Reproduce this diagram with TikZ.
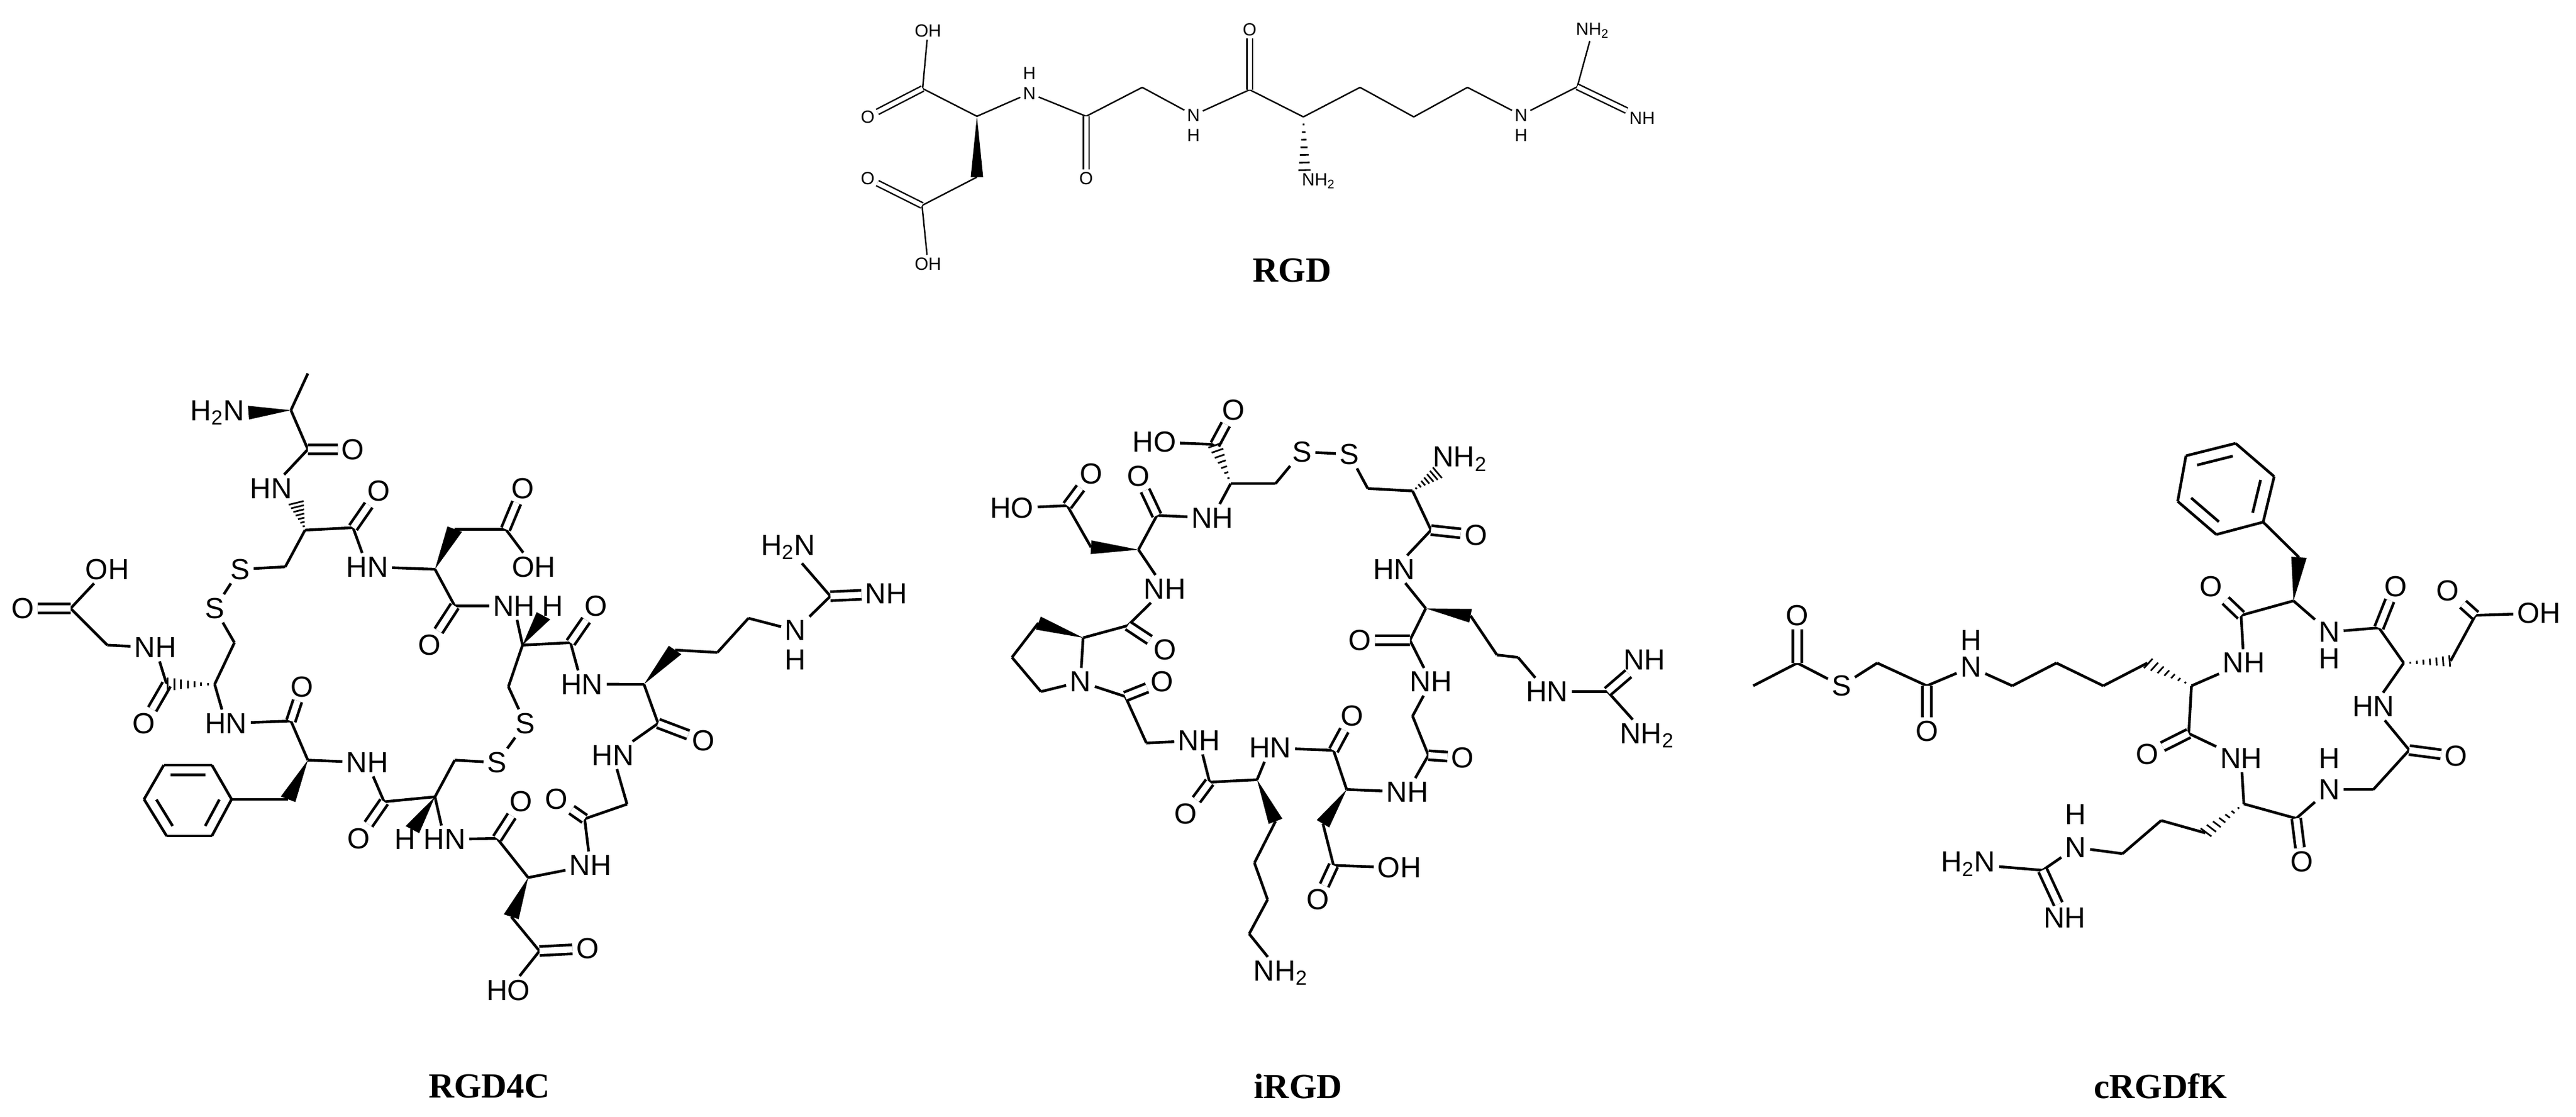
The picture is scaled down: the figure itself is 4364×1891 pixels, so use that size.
\documentclass[tikz,border=0pt]{standalone}
\usepackage{fontspec}
\setmainfont{Liberation Sans}
\newfontfamily\labfont{Liberation Serif}
\usetikzlibrary{calc}
\newcommand{\bw}[3][4pt]{\fill (#2) -- ($(#3)!#1!90:(#2)$) -- ($(#3)!#1!-90:(#2)$) -- cycle;}
\newcommand{\hw}[3][4pt]{\foreach \t in {0.14,0.28,0.42,0.56,0.70,0.84,0.98}{\draw[line width=0.8pt] ($(#2)!\t!(#3)!{\t*#1}!90:(#3)$) -- ($(#2)!\t!(#3)!{\t*#1}!-90:(#3)$);}}
\tikzset{
 atl/.style={inner sep=1.2pt,font=\fontsize{14}{14}\selectfont},
 ats/.style={inner sep=1pt,font=\fontsize{8.5}{8.5}\selectfont},
 dbl/.style={double,double distance=3pt},
 dbs/.style={double,double distance=2pt},
 title/.style={font=\labfont\bfseries\fontsize{17}{17}\selectfont}
}
\begin{document}
\begin{tikzpicture}[x=0.01cm,y=-0.01cm]
\useasboundingbox (0,0) rectangle (4364,1891);
% ================= RGD =================
\begin{scope}[line width=0.7pt]
\node[ats] (gOHa) at (1572,52) {OH};
\node[ats] (gOa) at (1470,198) {O};
\node[ats] (gNa) at (1744,158) {N}; \node[ats] (gHa) at (1744,124) {H};
\node[ats] (gOb) at (1840,302) {O};
\node[ats] (gNb) at (2022,195) {N}; \node[ats] (gHb) at (2022,229) {H};
\node[ats] (gOc) at (2117,50) {O};
\node[ats] (gNH2a) at (2234,307) {NH\textsubscript{2}};
\node[ats] (gNc) at (2577,195) {N}; \node[ats] (gHc) at (2577,229) {H};
\node[ats] (gNH2b) at (2698,52) {NH\textsubscript{2}};
\node[ats] (gNHd) at (2782,200) {NH};
\node[ats] (gOd) at (1470,302) {O};
\node[ats] (gOHb) at (1572,447) {OH};
\coordinate (gc1) at (1563,150); \coordinate (gca) at (1655,197);
\coordinate (gcb) at (1655,300); \coordinate (gc2) at (1562,348);
\coordinate (gc3) at (1840,197); \coordinate (gch) at (1935,148);
\coordinate (gc4) at (2117,152); \coordinate (gca2) at (2208,198);
\coordinate (gca2e) at (2210,290);
\coordinate (gk1) at (2304,148); \coordinate (gk2) at (2395,198);
\coordinate (gk3) at (2486,148); \coordinate (gc5) at (2672,147);
\foreach \u/\v in {gOHa/gc1,gc1/gca,gca/gNa,gNa/gc3,gc3/gch,gch/gNb,gNb/gc4,gc4/gca2,gca2/gk1,gk1/gk2,gk2/gk3,gk3/gNc,gNc/gc5,gc5/gNH2b,gcb/gc2,gc2/gOHb}
  \draw (\u) -- (\v);
\foreach \u/\v in {gc1/gOa,gc3/gOb,gc4/gOc,gc5/gNHd,gc2/gOd}
  \draw[dbs] (\u) -- (\v);
\bw[3pt]{gca}{gcb}
\hw[3pt]{gca2}{gca2e}
\node[title] (gT) at (2189,458) {RGD};
\end{scope}
% ================= RGD4C =================
\begin{scope}[shift={(0,500)},xscale=0.957,yscale=0.829,line width=1.3pt]
\node[atl] (aH2N1) at (385,240) {H\textsubscript{2}N};
\node[atl] (aO1) at (625,315) {O};
\node[atl] (aHN1) at (480,395) {HN};
\node[atl] (aS1) at (425,560) {S};
\node[atl] (aS2) at (380,640) {S};
\node[atl] (aO2) at (255,875) {O};
\node[atl] (aNH2) at (275,720) {NH};
\node[atl] (aO3) at (40,640) {O};
\node[atl] (aOH3) at (190,560) {OH};
\node[atl] (aHN3) at (400,875) {HN};
\node[atl] (aO4) at (535,800) {O};
\node[atl] (aNH5) at (650,955) {NH};
\node[atl] (aO5) at (635,1110) {O};
\node[atl] (aHx) at (717,1112) {H};
\node[atl] (aHN6) at (787,1112) {HN};
\node[atl] (aS3) at (880,955) {S};
\node[atl] (aS4) at (930,875) {S};
\node[atl] (aNH7) at (910,635) {NH};
\node[atl] (aHy) at (978,635) {H};
\node[atl] (aHN8) at (650,555) {HN};
\node[atl] (aO8) at (670,400) {O};
\node[atl] (aOD) at (925,395) {O};
\node[atl] (aOHD) at (945,555) {OH};
\node[atl] (aO9) at (760,715) {O};
\node[atl] (aO10) at (1055,635) {O};
\node[atl] (aHN11) at (1030,795) {HN};
\node[atl] (aNR) at (1408,685) {N}; \node[atl] (aHR) at (1408,745) {H};
\node[atl] (aH2NR) at (1395,515) {H\textsubscript{2}N};
\node[atl,anchor=west] (aNimR) at (1525,610) {NH};
\node[atl] (aO11) at (1245,910) {O};
\node[atl] (aHN12) at (1085,940) {HN};
\node[atl] (aO12) at (985,1030) {O};
\node[atl] (aNH13) at (1045,1165) {NH};
\node[atl] (aO13) at (922,1035) {O};
\node[atl] (aO14) at (1040,1335) {O};
\node[atl] (aHO14) at (900,1420) {HO};
\coordinate (ame) at (545,160); \coordinate (aca1) at (515,235);
\coordinate (ac1) at (545,315); \coordinate (acc1) at (540,480);
\coordinate (ach1) at (505,555); \coordinate (ach2) at (415,710);
\coordinate (acc2) at (380,795); \coordinate (ac2) at (295,795);
\coordinate (ach3) at (190,715); \coordinate (ac3) at (125,640);
\coordinate (ac4) at (515,870); \coordinate (acaF) at (545,950);
\coordinate (achF) at (510,1030);
\coordinate (ar1) at (410,1030); \coordinate (ar2) at (375,960);
\coordinate (ar3) at (290,960); \coordinate (ar4) at (255,1030);
\coordinate (ar5) at (295,1105); \coordinate (ar6) at (375,1105);
\coordinate (arc) at (333,1032);
\coordinate (ac5) at (680,1035); \coordinate (acc3) at (770,1025);
\coordinate (acc3w) at (730,1092);
\coordinate (ach4) at (805,950); \coordinate (ach5) at (900,800);
\coordinate (acc4) at (925,715); \coordinate (acc4w) at (962,655);
\coordinate (acaD) at (770,560); \coordinate (ac8) at (625,475);
\coordinate (achD) at (805,478); \coordinate (acD) at (895,478);
\coordinate (ac9) at (805,635); \coordinate (ac10) at (1010,710);
\coordinate (acaR) at (1140,795); \coordinate (aR1) at (1195,725);
\coordinate (aR2) at (1270,730); \coordinate (aR3) at (1325,660);
\coordinate (aguC) at (1470,615);
\coordinate (ac11) at (1165,875); \coordinate (ach12) at (1110,1040);
\coordinate (ac12) at (1035,1070); \coordinate (acaD2) at (935,1190);
\coordinate (ac13) at (880,1110); \coordinate (achD2) at (905,1270);
\coordinate (acD2) at (955,1340);
\foreach \u/\v in {ame/aca1,aca1/ac1,ac1/aHN1,acc1/ach1,ach1/aS1,aS1/aS2,aS2/ach2,ach2/acc2,
  ac2/aNH2,aNH2/ach3,ach3/ac3,ac3/aOH3,acc2/aHN3,aHN3/ac4,ac4/acaF,achF/ar1,
  ar1/ar2,ar2/ar3,ar3/ar4,ar4/ar5,ar5/ar6,ar6/ar1,acaF/aNH5,aNH5/ac5,ac5/acc3,acc3/aHN6,
  acc3/ach4,ach4/aS3,aS3/aS4,aS4/ach5,ach5/acc4,aNH7/acc4,
  acc1/ac8,ac8/aHN8,aHN8/acaD,achD/acD,acD/aOHD,acaD/ac9,ac9/aNH7,
  acc4/ac10,ac10/aHN11,aHN11/acaR,aR1/aR2,aR2/aR3,aR3/aNR,aNR/aguC,aguC/aH2NR,
  acaR/ac11,ac11/aHN12,aHN12/ach12,ach12/ac12,ac12/aNH13,aNH13/acaD2,acaD2/ac13,ac13/aHN6,
  achD2/acD2,acD2/aHO14}
  \draw (\u) -- (\v);
\foreach \u/\v in {ac1/aO1,ac2/aO2,ac3/aO3,ac4/aO4,ac5/aO5,ac8/aO8,acD/aOD,ac9/aO9,ac10/aO10,
  aguC/aNimR,ac11/aO11,ac12/aO12,ac13/aO13,acD2/aO14}
  \draw[dbl] (\u) -- (\v);
\draw ($(arc)!0.72!(ar2)$) -- ($(arc)!0.72!(ar3)$);
\draw ($(arc)!0.72!(ar4)$) -- ($(arc)!0.72!(ar5)$);
\draw ($(arc)!0.72!(ar6)$) -- ($(arc)!0.72!(ar1)$);
\bw{aca1}{aH2N1.east}
\hw{acc1}{aHN1.south east}
\hw{acc2}{ac2}
\bw{acaF}{achF}
\bw{acc3}{acc3w}
\bw{acc4}{acc4w}
\bw{acaD}{achD}
\bw{acaR}{aR1}
\bw{acaD2}{achD2}
\end{scope}
% ================= iRGD =================
\begin{scope}[shift={(1500,500)},xscale=0.893,yscale=0.829,line width=1.3pt]
\node[atl] (bO1) at (660,235) {O};
\node[atl] (bHO1) at (510,300) {HO};
\node[atl] (bS1) at (790,320) {S};
\node[atl] (bS2) at (880,325) {S};
\node[atl] (bNH2t) at (1090,335) {NH\textsubscript{2}};
\node[atl] (bO2) at (1120,490) {O};
\node[atl] (bHN2) at (965,560) {HN};
\node[atl] (bHN3) at (1255,810) {HN};
\node[atl] (bNHg) at (1440,745) {NH};
\node[atl] (bNH2g) at (1445,900) {NH\textsubscript{2}};
\node[atl] (bO3) at (900,705) {O};
\node[atl] (bNH3) at (1035,790) {NH};
\node[atl] (bO4) at (1095,945) {O};
\node[atl] (bNH4) at (990,1015) {NH};
\node[atl] (bO5) at (885,860) {O};
\node[atl] (bHN5) at (730,925) {HN};
\node[atl] (bO6) at (820,1235) {O};
\node[atl] (bOH6) at (975,1170) {OH};
\node[atl] (bO7) at (570,1060) {O};
\node[atl] (bNH7) at (595,910) {NH};
\node[atl] (bNH2l) at (750,1385) {NH\textsubscript{2}};
\node[atl] (bO8) at (525,790) {O};
\node[atl] (bN9) at (370,790) {N};
\node[atl] (bO9) at (530,725) {O};
\node[atl] (bNH9) at (530,600) {NH};
\node[atl] (bO10) at (390,365) {O};
\node[atl] (bHO10) at (240,435) {HO};
\node[atl] (bO11) at (480,370) {O};
\node[atl] (bNH11) at (620,455) {NH};
\coordinate (bc1) at (625,305); \coordinate (bca1) at (655,385);
\coordinate (bch1) at (740,385); \coordinate (bch2) at (915,395);
\coordinate (bca2) at (1000,400); \coordinate (bca2w) at (1048,362);
\coordinate (bc2) at (1035,480); \coordinate (bca3) at (1025,640);
\coordinate (bk1) at (1110,655); \coordinate (bk2) at (1160,735);
\coordinate (bk3) at (1200,740); \coordinate (bgC) at (1370,810);
\coordinate (bc3) at (995,705); \coordinate (bch3) at (1000,860);
\coordinate (bc4) at (1030,940); \coordinate (bca4) at (875,1010);
\coordinate (bc5) at (850,930); \coordinate (bch4) at (830,1080);
\coordinate (bc6) at (850,1165); \coordinate (bca5) at (705,990);
\coordinate (bc7) at (615,995); \coordinate (bl1) at (740,1075);
\coordinate (bl2) at (700,1160); \coordinate (bl3) at (725,1235);
\coordinate (bl4) at (690,1305);
\coordinate (bch8) at (495,915); \coordinate (bc8) at (455,820);
\coordinate (bp1) at (295,810); \coordinate (bp2) at (240,740);
\coordinate (bp3) at (290,670); \coordinate (bpa) at (375,700);
\coordinate (bc9) at (460,675); \coordinate (bca6) at (480,520);
\coordinate (bch6) at (390,515); \coordinate (bc10) at (345,430);
\coordinate (bc11) at (515,450);
\foreach \u/\v in {bc1/bHO1,bca1/bch1,bch1/bS1,bS1/bS2,bS2/bch2,bch2/bca2,bca2/bc2,bc2/bHN2,bHN2/bca3,
  bk1/bk2,bk2/bk3,bk3/bHN3,bHN3/bgC,bgC/bNH2g,bca3/bc3,bc3/bNH3,bNH3/bch3,bch3/bc4,bc4/bNH4,bNH4/bca4,
  bca4/bc5,bc5/bHN5,bHN5/bca5,bch4/bc6,bc6/bOH6,bca5/bc7,bc7/bNH7,bNH7/bch8,bch8/bc8,bc8/bN9,
  bl1/bl2,bl2/bl3,bl3/bl4,bl4/bNH2l,bN9/bp1,bp1/bp2,bp2/bp3,bpa/bN9,bpa/bc9,bc9/bNH9,bNH9/bca6,
  bch6/bc10,bc10/bHO10,bca6/bc11,bc11/bNH11,bNH11/bca1}
  \draw (\u) -- (\v);
\foreach \u/\v in {bc1/bO1,bc2/bO2,bgC/bNHg,bc3/bO3,bc4/bO4,bc5/bO5,bc6/bO6,bc7/bO7,bc8/bO8,bc9/bO9,bc10/bO10,bc11/bO11}
  \draw[dbl] (\u) -- (\v);
\hw{bca1}{bc1}
\hw{bca2}{bca2w}
\bw{bca3}{bk1}
\bw{bca4}{bch4}
\bw{bca5}{bl1}
\bw{bpa}{bp3}
\bw{bca6}{bch6}
\end{scope}
% ================= cRGDfK =================
\begin{scope}[shift={(2900,600)},xscale=0.934,yscale=0.702,line width=1.3pt]
\node[atl] (cOA) at (155,630) {O};
\node[atl] (cSA) at (235,800) {S};
\node[atl] (cOB) at (390,910) {O};
\node[atl] (cNB) at (470,755) {N}; \node[atl] (cHB) at (470,690) {H};
\node[atl] (cNH1) at (965,745) {NH};
\node[atl] (cO1) at (905,560) {O};
\node[atl] (cN2) at (1120,670) {N}; \node[atl] (cH2) at (1120,735) {H};
\node[atl] (cO2) at (1240,560) {O};
\node[atl] (cOC) at (1335,570) {O};
\node[atl] (cOHC) at (1500,625) {OH};
\node[atl] (cHN3) at (1200,850) {HN};
\node[atl] (cO3) at (1350,970) {O};
\node[atl] (cN4) at (1120,1050) {N}; \node[atl] (cH4) at (1120,975) {H};
\node[atl] (cO4) at (1070,1225) {O};
\node[atl] (cNH5) at (960,975) {NH};
\node[atl] (cO5) at (790,965) {O};
\node[atl] (cN6) at (660,1190) {N}; \node[atl] (cH6) at (660,1110) {H};
\node[atl] (cH2N) at (465,1230) {H\textsubscript{2}N};
\node[atl] (cNHg) at (640,1360) {NH};
\coordinate (cme) at (75,800); \coordinate (ccA) at (155,745);
\coordinate (cchA) at (300,745); \coordinate (ccB) at (390,800);
\coordinate (cm1) at (545,800); \coordinate (cm2) at (625,745);
\coordinate (cm3) at (710,800); \coordinate (cm4) at (790,745);
\coordinate (cca1) at (870,800); \coordinate (cc1) at (960,630);
\coordinate (cca2) at (1055,595); \coordinate (cbz) at (1065,490);
\coordinate (cq1) at (1000,405); \coordinate (cq2) at (1020,295);
\coordinate (cq3) at (950,215); \coordinate (cq4) at (860,245);
\coordinate (cq5) at (845,355); \coordinate (cq6) at (915,435);
\coordinate (cqc) at (932,325);
\coordinate (cc2) at (1210,660); \coordinate (cca3) at (1255,745);
\coordinate (cchc) at (1340,740); \coordinate (ccC) at (1385,630);
\coordinate (cc3) at (1265,955); \coordinate (cch3) at (1200,1050);
\coordinate (cc4) at (1060,1120); \coordinate (cca4) at (965,1085);
\coordinate (cc5) at (865,915); \coordinate (cs1) at (895,1155);
\coordinate (cs2) at (815,1125); \coordinate (cs3) at (745,1205);
\coordinate (cgC) at (600,1245);
\foreach \u/\v in {cme/ccA,ccA/cSA,cSA/cchA,cchA/ccB,ccB/cNB,cNB/cm1,cm1/cm2,cm2/cm3,cm3/cm4,
  cca1/cNH1,cNH1/cc1,cc1/cca2,cbz/cq1,cq1/cq2,cq2/cq3,cq3/cq4,cq4/cq5,cq5/cq6,cq6/cq1,
  cca2/cN2,cN2/cc2,cc2/cca3,cchc/ccC,ccC/cOHC,cca3/cHN3,cHN3/cc3,cc3/cch3,cch3/cN4,cN4/cc4,
  cc4/cca4,cca4/cNH5,cNH5/cc5,cc5/cca1,cs1/cs2,cs2/cs3,cs3/cN6,cN6/cgC,cgC/cH2N}
  \draw (\u) -- (\v);
\foreach \u/\v in {ccA/cOA,ccB/cOB,cc1/cO1,cc2/cO2,ccC/cOC,cc3/cO3,cc4/cO4,cc5/cO5,cgC/cNHg}
  \draw[dbl] (\u) -- (\v);
\draw ($(cqc)!0.72!(cq1)$) -- ($(cqc)!0.72!(cq2)$);
\draw ($(cqc)!0.72!(cq3)$) -- ($(cqc)!0.72!(cq4)$);
\draw ($(cqc)!0.72!(cq5)$) -- ($(cqc)!0.72!(cq6)$);
\hw{cca1}{cm4}
\bw{cca2}{cbz}
\hw{cca3}{cchc}
\hw{cca4}{cs1}
\end{scope}
% ================= titles =================
\node[title] (tA) at (829,1840) {RGD4C};
\node[title] (tB) at (2199,1840) {iRGD};
\node[title] (tC) at (3660,1840) {cRGDfK};
\end{tikzpicture}
\end{document}
